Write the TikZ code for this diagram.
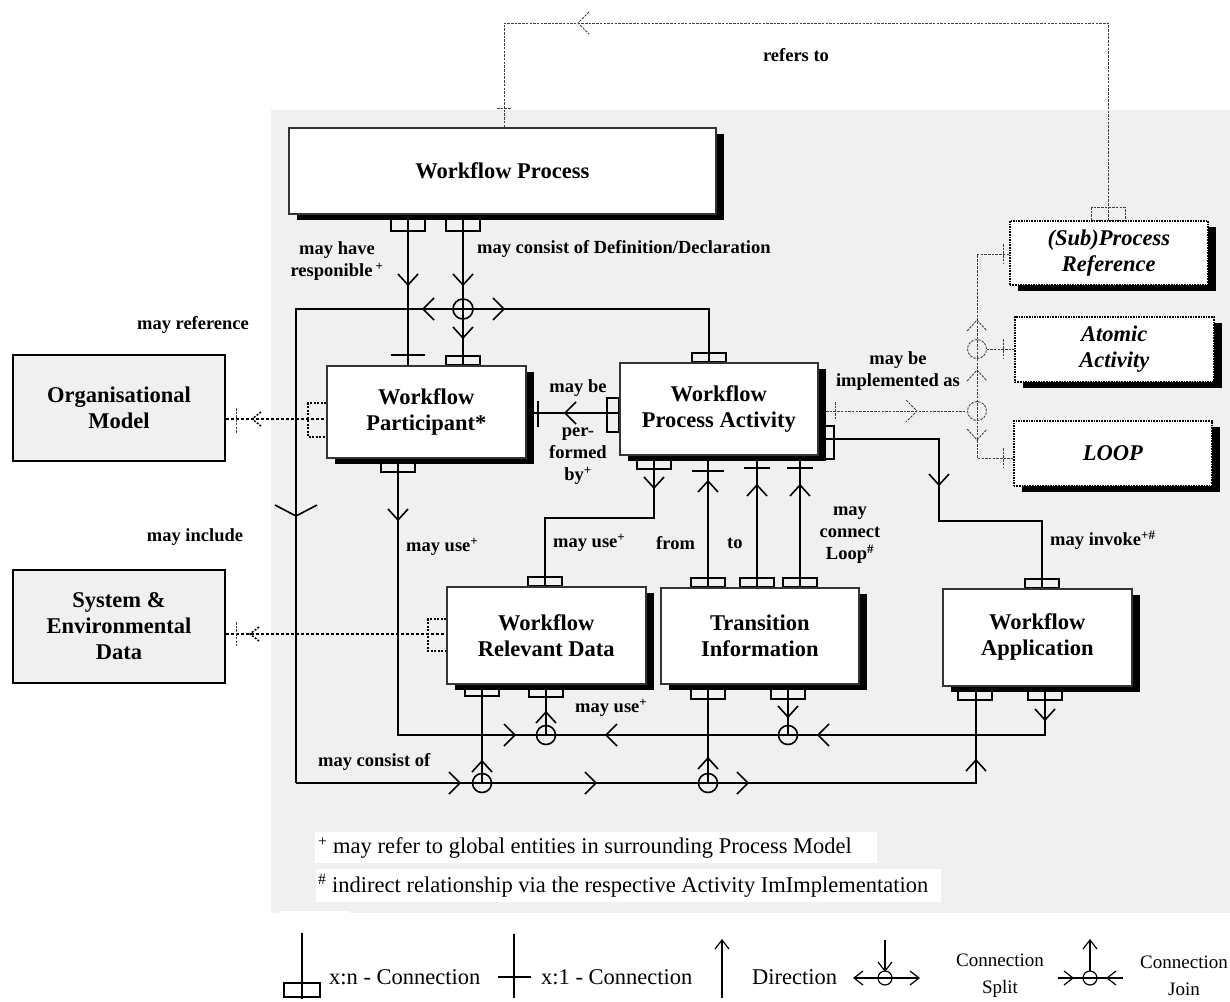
\documentclass[tikz,border=0pt]{standalone}
\usepackage{fontspec}
\setmainfont{Liberation Serif}
\usetikzlibrary{shadows}
\pgfdeclarelayer{back}
\pgfdeclarelayer{bg}
\pgfsetlayers{back,bg,main}
\newcommand{\lblf}{\fontsize{18.5}{22}\selectfont\bfseries}
\newcommand{\ttlf}{\fontsize{22.5}{26}\selectfont\bfseries}
\newcommand{\notef}{\fontsize{22.5}{27}\selectfont}
\newcommand{\legf}{\fontsize{19}{27}\selectfont}
\tikzset{
  conn/.style={line width=1.6pt, color=black},
  thinl/.style={line width=0.9pt, color=black!75, dash pattern=on 2.5pt off 1.2pt},
  dotl/.style={line width=2.4pt, color=black, dash pattern=on 3pt off 2pt},
  dotb/.style={line width=1.5pt, color=black, dash pattern=on 2pt off 1.5pt},
  legl/.style={line width=1.2pt, color=black},
  ebox/.style={draw=black!80, line width=1.6pt, fill=white, font=\ttlf, align=center,
    inner sep=0pt, anchor=north west,
    drop shadow={shadow xshift=8pt, shadow yshift=-6pt, fill=black, opacity=1}},
  dbox/.style={ebox, draw=black, densely dotted, font={\ttlf\itshape}},
  gbox/.style={draw=black, line width=2pt, fill=black!6, font=\ttlf, align=center,
    inner sep=0pt, anchor=north west},
  lbl/.style={font=\lblf, align=center, inner sep=0pt},
  notebg/.style={fill=white, anchor=north west, inner sep=0pt},
  notet/.style={font=\notef, inner sep=0pt, anchor=west},
  legt/.style={font=\notef, inner sep=0pt, anchor=west},
  legt2/.style={font=\legf, inner sep=0pt, align=center},
  aD/.pic={\draw (-10,-11) -- (0,0) -- (10,-11);},
  aU/.pic={\draw (-10,11) -- (0,0) -- (10,11);},
  aR/.pic={\draw (-11,-11) -- (0,0) -- (-11,11);},
  aL/.pic={\draw (11,-11) -- (0,0) -- (11,11);},
  sD/.pic={\draw (-7,-9) -- (0,0) -- (7,-9);},
  sU/.pic={\draw (-7,9) -- (0,0) -- (7,9);},
  sR/.pic={\draw (-9,-7) -- (0,0) -- (-9,7);},
  sL/.pic={\draw (9,-7) -- (0,0) -- (9,7);},
}
\begin{document}
\begin{tikzpicture}[x=1pt,y=-1pt]
\useasboundingbox (0,0) rectangle (1230,1001);
\begin{pgfonlayer}{back}
  \fill[white] (0,0) rectangle (1230,1001);
  \fill[black!6] (271,110) rectangle (1230,913);
  \fill[white] (279,911) rectangle (350,914);
\end{pgfonlayer}

% ---------- boxes ----------
\node[ebox, minimum width=427pt, minimum height=86pt] (wproc) at (288,127) {Workflow Process};
\node[ebox, minimum width=199pt, minimum height=92pt] (wpart) at (326,365) {Workflow\\Participant*};
\node[ebox, minimum width=198pt, minimum height=92pt] (wpa) at (619,362) {Workflow\\Process Activity};
\node[ebox, minimum width=199pt, minimum height=97pt] (wrd) at (446,586) {Workflow\\Relevant Data};
\node[ebox, minimum width=198pt, minimum height=96pt] (ti) at (660,587) {Transition\\Information};
\node[ebox, minimum width=189pt, minimum height=97pt] (wapp) at (942,588) {Workflow\\Application};
\node[dbox, minimum width=198pt, minimum height=64pt] (spr) at (1009,220) {(Sub)Process\\Reference};
\node[dbox, minimum width=199pt, minimum height=65pt] (atom) at (1014,316) {Atomic\\Activity};
\node[dbox, minimum width=198pt, minimum height=65pt] (loopb) at (1013,420) {LOOP};
\node[gbox, minimum width=212pt, minimum height=106pt] (org) at (12,354) {Organisational\\Model};
\node[gbox, minimum width=212pt, minimum height=113pt] (sed) at (12,569) {System \&\\Environmental\\Data};

% ---------- labels ----------
\node[lbl] (l1) at (337,261) {may have\\responible\,\textsuperscript{+}};
\node[lbl, anchor=west] (l2) at (477,249) {may consist of Definition/Declaration};
\node[lbl] (l3) at (193,325) {may reference};
\node[lbl] (l4) at (195,537) {may include};
\node[lbl] (l5) at (578,388) {may be};
\node[lbl] (l6) at (578,456) {per-\\formed\\by\textsuperscript{+}};
\node[lbl] (l7) at (898,371) {may be\\implemented as};
\node[lbl, anchor=west] (l8) at (406,547) {may use\textsuperscript{+}};
\node[lbl, anchor=west] (l9) at (553,543) {may use\textsuperscript{+}};
\node[lbl, anchor=west] (l10) at (656,543) {from};
\node[lbl, anchor=west] (l11) at (727,543) {to};
\node[lbl] (l12) at (850,535) {may\\connect\\Loop\textsuperscript{\#}};
\node[lbl, anchor=west] (l13) at (1050,540) {may invoke\textsuperscript{+\#}};
\node[lbl, anchor=west] (l14) at (575,708) {may use\textsuperscript{+}};
\node[lbl, anchor=west] (l15) at (318,762) {may consist of};
\node[lbl] (l16) at (796,55) {refers to};

% ---------- footnotes ----------
\node[notebg, minimum width=562pt, minimum height=31pt] (fn1bg) at (315,832) {};
\node[notet] (fn1) at (318,848)
  {\textsuperscript{+} may refer to global entities in surrounding Process Model};
\node[notebg, minimum width=625pt, minimum height=33pt] (fn2bg) at (316,869) {};
\node[notet] (fn2) at (318,886)
  {\textsuperscript{\#} indirect relationship via the respective Activity ImImplementation};

% ---------- legend ----------
\draw[legl] (302,933) -- (302,999);
\draw[legl] (284,983) rectangle (320,997);
\node[legt] (lg1) at (329,977) {x:n - Connection};
\draw[legl] (514,934) -- (514,998);
\draw[legl] (498,977) -- (531,977);
\node[legt] (lg2) at (541,977) {x:1 - Connection};
\draw[legl] (722,940) -- (722,998);
\pic[legl] at (722,940) {sU};
\node[legt] (lg3) at (752,977) {Direction};
\draw[legl] (854,978) -- (919,978);
\draw[legl] (885,978) circle[radius=7pt];
\draw[legl] (885,940) -- (885,971);
\pic[legl] at (885,971) {sD};
\pic[legl] at (854,978) {sL};
\pic[legl] at (919,978) {sR};
\node[legt2] (lg4) at (1000,976) {Connection\\Split};
\draw[legl] (1058,978) -- (1123,978);
\draw[legl] (1090,978) circle[radius=7pt];
\draw[legl] (1090,940) -- (1090,971);
\pic[legl] at (1090,940) {sU};
\pic[legl] at (1073,978) {sR};
\pic[legl] at (1107,978) {sL};
\node[legt2] (lg5) at (1184,976) {Connection\\Join};

% ---------- connectors ----------
\begin{pgfonlayer}{bg}
% refers to
\draw[thinl] (504,0 |- wproc.north) -- (504,23) -- (1108,23) -- (1108,0 |- spr.north);
\draw[thinl] (1091,207) rectangle (1125,220);
\draw[thinl] (497,108) -- (511,108);
\pic[thinl] at (578,23) {aL};
% wproc -> wpart (x:1)
\draw[conn] (408,0 |- wproc.south) -- (408,0 |- wpart.north);
\draw[conn] (391,213) rectangle (425,231);
\draw[conn] (391,355) -- (425,355);
\pic[conn] at (408,285) {aD};
% wproc -> split
\draw[conn] (463,0 |- wproc.south) -- (463,0 |- wpart.north);
\draw[conn] (446,213) rectangle (480,231);
\pic[conn] at (463,285) {aD};
\draw[conn] (463,309) circle[radius=10pt];
\pic[conn] at (463,338) {aD};
\draw[conn] (446,356) rectangle (480,365);
\draw[conn] (296,783) -- (296,309) -- (709,309) -- (709,0 |- wpa.north);
\pic[conn] at (423,309) {aL};
\pic[conn] at (504,309) {aR};
\draw[conn] (692,353) rectangle (726,362);
\draw[conn] (275,505) -- (296,516) -- (317,505);
% bottom line (may consist of)
\draw[conn] (296,783) -- (976,783) -- (976,0 |- wapp.south);
\pic[conn] at (460,783) {aR};
\pic[conn] at (596,783) {aR};
\pic[conn] at (748,783) {aR};
\pic[conn] at (976,760) {aU};
\draw[conn] (958,685) rectangle (992,700);
\draw[conn] (482,0 |- wrd.south) -- (482,783);
\draw[conn] (465,683) rectangle (499,696);
\pic[conn] at (482,761) {aU};
\draw[conn] (482,783) circle[radius=9.5pt];
\draw[conn] (708,0 |- ti.south) -- (708,783);
\draw[conn] (691,683) rectangle (725,699);
\pic[conn] at (708,758) {aU};
\draw[conn] (708,783) circle[radius=9.5pt];
% middle line (may use)
\draw[conn] (398,0 |- wpart.south) -- (398,735) -- (1045,735) -- (1045,0 |- wapp.south);
\draw[conn] (381,457) rectangle (415,472);
\pic[conn] at (398,520) {aD};
\pic[conn] at (515,735) {aR};
\pic[conn] at (606,735) {aL};
\pic[conn] at (818,735) {aL};
\pic[conn] at (1045,720) {aD};
\draw[conn] (1028,685) rectangle (1062,700);
\draw[conn] (546,0 |- wrd.south) -- (546,735);
\draw[conn] (529,683) rectangle (563,697);
\pic[conn] at (546,712) {aU};
\draw[conn] (546,735) circle[radius=9.5pt];
\draw[conn] (788,0 |- ti.south) -- (788,735);
\draw[conn] (771,683) rectangle (805,699);
\pic[conn] at (788,717) {aD};
\draw[conn] (788,735) circle[radius=9.5pt];
% performed by
\draw[conn] (wpart.east |- 0,413) -- (wpa.west |- 0,413);
\draw[conn] (607,398) rectangle (619,432);
\draw[conn] (538,401) -- (538,427);
\pic[conn] at (565,413) {aL};
% wpa -> wrd (may use)
\draw[conn] (654,0 |- wpa.south) -- (654,518) -- (545,518) -- (545,0 |- wrd.north);
\draw[conn] (637,454) rectangle (671,469);
\pic[conn] at (654,488) {aD};
\draw[conn] (528,577) rectangle (562,586);
% from / to / loop
\draw[conn] (708,0 |- wpa.south) -- (708,0 |- ti.north);
\draw[conn] (692,471) -- (724,471);
\pic[conn] at (708,481) {aU};
\draw[conn] (691,578) rectangle (725,587);
\draw[conn] (757,0 |- wpa.south) -- (757,0 |- ti.north);
\draw[conn] (744,468) -- (770,468);
\pic[conn] at (757,485) {aU};
\draw[conn] (740,578) rectangle (774,587);
\draw[conn] (800,0 |- wpa.south) -- (800,0 |- ti.north);
\draw[conn] (787,468) -- (813,468);
\pic[conn] at (800,485) {aU};
\draw[conn] (783,578) rectangle (817,587);
% may invoke
\draw[conn] (wpa.east |- 0,439) -- (939,439) -- (939,521) -- (1042,521) -- (1042,0 |- wapp.north);
\draw[conn] (817,426) rectangle (834,459);
\pic[conn] at (939,485) {aD};
\draw[conn] (1025,579) rectangle (1059,588);
% may be implemented as
\draw[thinl] (wpa.east |- 0,411) -- (967.5,411);
\draw[thinl] (977,411) circle[radius=9.5pt];
\draw[thinl] (977,349) circle[radius=9.5pt];
\draw[thinl] (spr.west |- 0,254) -- (977,254) -- (977,458) -- (loopb.west |- 0,458);
\draw[thinl] (986.5,349) -- (atom.west |- 0,349);
\draw[thinl] (835,402) -- (835,420);
\draw[thinl] (1003,244) -- (1003,264);
\draw[thinl] (1003,339) -- (1003,359);
\draw[thinl] (1003,448) -- (1003,468);
\pic[thinl] at (917,411) {aR};
\pic[thinl] at (977,320) {aU};
\pic[thinl] at (977,370) {aU};
\pic[thinl] at (977,440) {aD};
% organisational model
\draw[dotl] (org.east |- 0,419) -- (wpart.west |- 0,419);
\draw[dotb] (326,403) -- (308,403) -- (308,437) -- (326,437);
\draw[thinl] (236,408) -- (236,433);
\pic[dotb] at (252,419) {sL};
% system & environmental data
\draw[dotl] (sed.east |- 0,634) -- (wrd.west |- 0,634);
\draw[dotb] (446,619) -- (428,619) -- (428,651) -- (446,651);
\draw[thinl] (236,622) -- (236,646);
\pic[dotb] at (250,634) {sL};
\end{pgfonlayer}
\end{tikzpicture}
\end{document}
